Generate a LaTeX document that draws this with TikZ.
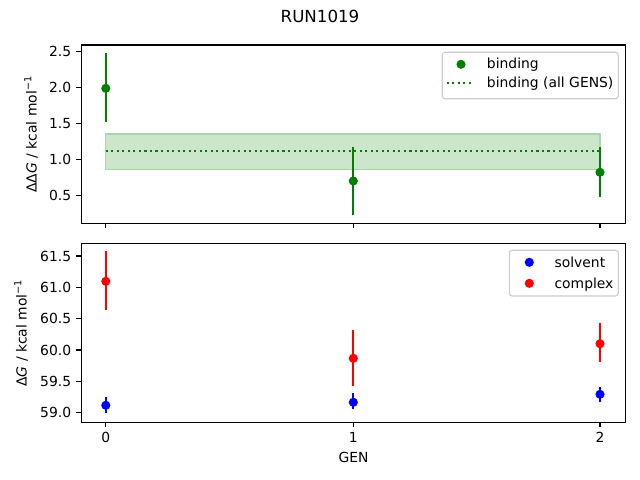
\documentclass[tikz,border=0pt]{standalone}
\usepackage{fontspec}
\setmainfont{DejaVu Sans}
\definecolor{mgreen}{RGB}{0,128,0}
\definecolor{mblue}{RGB}{0,0,255}
\definecolor{mred}{RGB}{255,0,0}
\definecolor{bandfill}{RGB}{204,230,204}
\definecolor{bandedge}{RGB}{170,212,170}
\definecolor{legedge}{RGB}{204,204,204}
\begin{document}
\begin{tikzpicture}[x=0.72pt,y=-0.72pt,
  axframe/.style={line width=0.8pt,draw=black},
  tickmark/.style={line width=0.8pt,draw=black},
  ebar/.style={line width=1.5pt},
  dot/.style={circle,minimum size=6.6pt,inner sep=0pt},
  ticklbl/.style={font=\fontsize{10}{12}\selectfont,inner sep=0pt},
  leglbl/.style={font=\fontsize{10}{12}\selectfont,inner sep=0pt,anchor=base west},
  legbox/.style={draw=legedge,fill=white,line width=0.8pt,rounded corners=2pt},
  ]
\fill[white] (0,0) rectangle (640,480);
\node[font=\fontsize{12}{14}\selectfont,inner sep=0pt] (title) at (320,16.3) {RUN1019};
% ---------------- top axes ----------------
\fill[bandfill] (105.8,134) rectangle (600,169.3);
\draw[bandedge,line width=0.8pt] (105.8,134) rectangle (600,169.3);
\draw[mgreen,line width=1.5pt,dash pattern=on 1.5pt off 2.475pt] (105.8,150.7) -- (600,150.7);
\draw[mgreen,ebar] (105.8,53.3) -- (105.8,122.3);
\draw[mgreen,ebar] (353.3,146.7) -- (353.3,214.7);
\draw[mgreen,ebar] (600,147.3) -- (600,197.3);
\node[dot,fill=mgreen] (b0) at (105.8,88.3) {};
\node[dot,fill=mgreen] (b1) at (353.3,181) {};
\node[dot,fill=mgreen] (b2) at (600,172.3) {};
\foreach \y/\t in {51.3/2.5,87.7/2.0,123.7/1.5,159.7/1.0,195.7/0.5}{
  \draw[tickmark] (81.3,\y) -- (76.4,\y);
  \node[ticklbl,anchor=east] at (71.4,\y) {\t};
}
\foreach \x in {105.8,353.3,600}{
  \draw[tickmark] (\x,223.3) -- (\x,228.2);
}
\draw[axframe] (81.3,45) rectangle (625.7,223.3);
\node[font=\fontsize{10}{12}\selectfont,inner sep=0pt,rotate=90,anchor=base] (ylab1) at (36.5,134.2) {ΔΔ\textit{G} / kcal mol\textsuperscript{−1}};
% legend top
\draw[legbox] (442.3,52.3) rectangle (618.3,98.7);
\node[dot,fill=mgreen] (lb) at (461,64.3) {};
\node[leglbl] (lbt) at (486.7,68.8) {binding};
\draw[mgreen,line width=1.5pt,dash pattern=on 1.5pt off 2.475pt] (446.7,83.3) -- (474.3,83.3);
\node[leglbl] (lat) at (486.7,87.8) {binding (all GENS)};
% ---------------- bottom axes ----------------
\draw[mblue,ebar] (105.8,397.3) -- (105.8,413.3);
\draw[mblue,ebar] (353.3,392.7) -- (353.3,409.3);
\draw[mblue,ebar] (600,387) -- (600,401.7);
\node[dot,fill=mblue] (s0) at (105.8,405.3) {};
\node[dot,fill=mblue] (s1) at (353.3,402.3) {};
\node[dot,fill=mblue] (s2) at (600,394.3) {};
\draw[mred,ebar] (105.8,251) -- (105.8,310);
\draw[mred,ebar] (353.3,330) -- (353.3,385.7);
\draw[mred,ebar] (600,323.3) -- (600,362.3);
\node[dot,fill=mred] (c0) at (105.8,281.3) {};
\node[dot,fill=mred] (c1) at (353.3,358.3) {};
\node[dot,fill=mred] (c2) at (600,343.7) {};
\foreach \y/\t in {256/61.5,287.3/61.0,318.7/60.5,350/60.0,381.3/59.5,412.5/59.0}{
  \draw[tickmark] (81.3,\y) -- (76.4,\y);
  \node[ticklbl,anchor=east] at (71.4,\y) {\t};
}
\foreach \x/\t in {105.8/0,353.3/1,600/2}{
  \draw[tickmark] (\x,422.3) -- (\x,427.2);
  \node[ticklbl,anchor=north] at (\x,431.8) {\t};
}
\draw[axframe] (81.3,243.7) rectangle (625.7,422.3);
\node[font=\fontsize{10}{12}\selectfont,inner sep=0pt,anchor=north] (xlab) at (353.5,451.6) {GEN};
\node[font=\fontsize{10}{12}\selectfont,inner sep=0pt,rotate=90,anchor=base] (ylab2) at (26.5,333) {Δ\textit{G} / kcal mol\textsuperscript{−1}};
% legend bottom
\draw[legbox] (509.3,250.3) rectangle (618.3,296);
\node[dot,fill=mblue] (ls) at (529.3,262.3) {};
\node[leglbl] (lst) at (554.3,267) {solvent};
\node[dot,fill=mred] (lc) at (529.3,283.3) {};
\node[leglbl] (lct) at (554.3,288) {complex};
\end{tikzpicture}
\end{document}
